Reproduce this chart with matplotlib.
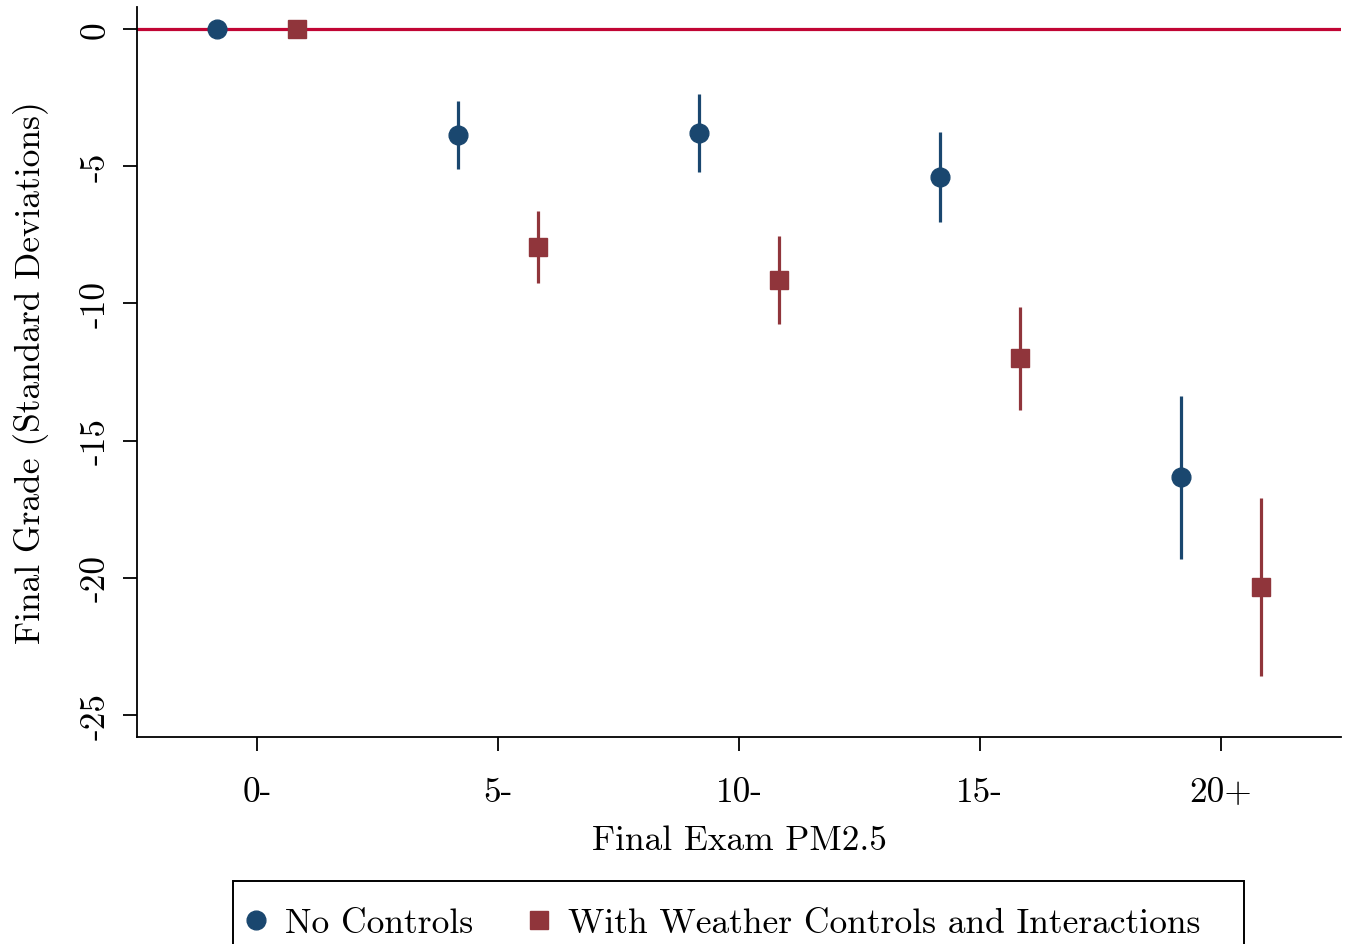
import matplotlib
matplotlib.use('Agg')
import matplotlib.pyplot as plt
from matplotlib.patches import Rectangle
import numpy as np

# Data
bins = [0, 5, 10, 15, 20]
bin_labels = ['0-', '5-', '10-', '15-', '20+']

nocontrol_coef = [0.0, -3.86, -3.79, -5.39, -16.33]
nocontrol_lo = [0.0, -5.10, -5.21, -7.03, -19.31]
nocontrol_hi = [0.0, -2.62, -2.37, -3.75, -13.37]

weather_coef = [0.0, -7.94, -9.15, -11.99, -20.34]
weather_lo = [0.0, -9.26, -10.75, -13.88, -23.58]
weather_hi = [0.0, -6.63, -7.54, -10.13, -17.09]

yticks = [0, -5, -10, -15, -20, -25]

blue = '#1a476f'
red = '#90353b'
zero_col = '#c10534'

plt.rcParams['font.family'] = 'cmr10'
plt.rcParams['axes.formatter.use_mathtext'] = True

fig = plt.figure(figsize=(13.47, 9.45), dpi=100)
ax = fig.add_axes([0.1017, 0.219, 0.8938, 0.7725])

x = np.array(bins, dtype=float)
off = 0.83

ax.axhline(0, color=zero_col, lw=2.3, zorder=1)

nc = np.array(nocontrol_coef)
wc = np.array(weather_coef)
ax.vlines(x - off, nocontrol_lo, nocontrol_hi, color=blue, lw=2.3, zorder=2)
ax.vlines(x + off, weather_lo, weather_hi, color=red, lw=2.3, zorder=2)
ax.plot(x - off, nc, 'o', color=blue, ms=13.5, ls='none', zorder=3,
        label='No Controls')
ax.plot(x + off, wc, 's', color=red, ms=13, ls='none', zorder=3,
        label='With Weather Controls and Interactions')

ax.set_xlim(-2.5, 22.5)
ax.set_ylim(-25.8, 0.8)

ax.set_xticks(bins)
ax.set_xticklabels(bin_labels)
ax.set_yticks(yticks)
ax.set_yticklabels([str(v) for v in yticks], rotation=90, va='center')

ax.spines['top'].set_visible(False)
ax.spines['right'].set_visible(False)
ax.spines['left'].set_linewidth(1.3)
ax.spines['bottom'].set_linewidth(1.3)
ax.tick_params(axis='both', direction='out', length=10, width=1.3,
               labelsize=25.5)
ax.tick_params(axis='x', pad=18)
ax.tick_params(axis='y', pad=8.5)

ax.set_xlabel('Final Exam PM2.5', fontsize=25.5, labelpad=12)
ax.set_ylabel('Final Grade (Standard Deviations)', fontsize=25.5, labelpad=22)

# legend without its own frame, the box is drawn separately (wider, cut off at bottom)
leg = fig.legend(loc='upper left', bbox_to_anchor=(0.1822, 0.0385),
                 ncol=2, fontsize=25.5, frameon=False,
                 markerscale=1.0, handlelength=0.6, handletextpad=0.52,
                 columnspacing=1.55, borderpad=0, borderaxespad=0)
box = Rectangle((233 / 1347, -0.05), (1244 - 233) / 1347, 0.05 + 1 - 882 / 945,
                transform=fig.transFigure, fill=False, edgecolor='black',
                linewidth=1.4, clip_on=False)
fig.patches.append(box)

fig.savefig('out.png', dpi=100)
